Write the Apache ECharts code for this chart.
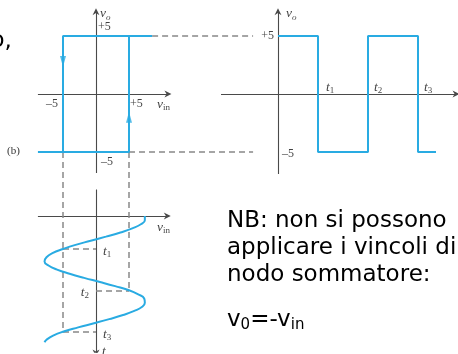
<!DOCTYPE html>
<html><head><meta charset="utf-8">
<script src="https://cdn.jsdelivr.net/npm/echarts@6/dist/echarts.min.js"></script>
<style>html,body{margin:0;padding:0;background:#fff}#c{width:458px;height:354px}</style>
</head><body><div id="c"></div>
<script>
// ---------- data ----------
// hysteresis loop (vin, vo)
const loopVin = [8.5, -5, -5, -8.8, 5, 5];
const loopVo  = [5, 5, -5, -5, -5, 5];
// loop direction arrows
const arrowVin = [-5, 5];
const arrowVo  = [2.8, -2.0];
const arrowRot = [180, 0];
// output square wave (t, vo)
const squareT  = [0, 4, 4, 9, 9, 14, 14, 15.8];
const squareVo = [5, 5, -5, -5, 5, 5, -5, -5];
// input sine (vin vs t, time runs downward)
const sineT   = [0,0.5,1,1.5,2,2.5,3,3.5,4,4.5,5,5.5,6,6.5,7,7.5,8,8.5,9,9.5,10,10.5,11,11.5,12,12.5,13,13.5,14,14.5,15,15.3];
const sineVin = [7.4,7.4,6.8,5.5,3.7,1.5,-0.8,-3.1,-5.0,-6.6,-7.5,-7.8,-7.2,-5.9,-4.0,-1.8,0.6,2.9,5.0,6.4,7.3,7.4,7.0,5.8,4.1,2.0,-0.3,-2.7,-4.9,-6.5,-7.5,-7.8];
// switching instants and thresholds
const crossT   = [4, 9, 14];
const crossVin = [-5, 5, -5];
const levels   = [5, -5];
const levelDashEnd = 23.8;     // vin where the level guide lines stop
const guideTopT = -7.76;       // t level of the vo=-5 line in the sine frame
// axis extents
const hystX = [-8.8, 10.9], hystY = [-6.8, 7.1];
const sqX = [-5.7, 17.8],  sqY = [-6.9, 7.1];
const sinX = [-8.8, 10.8], sinY = [-3.2, 16.6];

const BLUE = '#29abe2', GRAY = '#888', AX = '#4a4a4a';
const SERIF = 'Liberation Serif';

const arrowPath = 'path://M5,0 L10,10 L5,7 L0,10 Z';
function axisLines(grid, segs){
  return {type:'lines', coordinateSystem:'cartesian2d', xAxisIndex:grid, yAxisIndex:grid,
    polyline:false, silent:true, symbol:['none', arrowPath], symbolSize:[0,7],
    lineStyle:{color:AX, width:1.1, opacity:1, curveness:0},
    itemStyle:{color:AX},
    data: segs.map(s=>({coords:s}))};
}
function dashLines(grid, segs){
  return {type:'lines', coordinateSystem:'cartesian2d', xAxisIndex:grid, yAxisIndex:grid,
    silent:true, symbol:['none','none'],
    lineStyle:{color:GRAY, width:1.5, type:[6,4], opacity:1, curveness:0},
    data: segs.map(s=>({coords:s}))};
}
const rich = {
  v:{fontFamily:SERIF, fontStyle:'italic', fontSize:13.5, color:'#111', lineHeight:16},
  s:{fontFamily:SERIF, fontSize:9, color:'#111', verticalAlign:'bottom', lineHeight:9},
  si:{fontFamily:SERIF, fontStyle:'italic', fontSize:9, color:'#111', verticalAlign:'bottom', lineHeight:9},
  n:{fontFamily:SERIF, fontSize:12, color:'#111'}
};
function labels(grid, items){
  return {type:'scatter', xAxisIndex:grid, yAxisIndex:grid, symbolSize:1, silent:true,
    itemStyle:{color:'rgba(0,0,0,0)'},
    data: items.map(it=>({value:[it[0],it[1]], label:{show:true, position:'inside',
      formatter:it[2], align:it[3], verticalAlign:'middle', offset:it[4], rich:rich}}))};
}

const chart = echarts.init(document.getElementById('c'), null, {renderer:'canvas'});
const option = {
  animation:false,
  grid:[
    {left:3.6, top:1.2, width:448.8, height:348, outerBoundsMode:'none', containLabel:false},
    {left:8, top:1.2, width:450, height:348, outerBoundsMode:'none', containLabel:false},
    {left:3.6, top:1.5, width:448.8, height:350.625, outerBoundsMode:'none', containLabel:false}
  ],
  xAxis:[
    {gridIndex:0, type:'value', min:-14, max:54, show:false},
    {gridIndex:1, type:'value', min:-27, max:18, show:false},
    {gridIndex:2, type:'value', min:-14, max:54, show:false}
  ],
  yAxis:[
    {gridIndex:0, type:'value', min:-22, max:8, show:false},
    {gridIndex:1, type:'value', min:-22, max:8, show:false},
    {gridIndex:2, type:'value', min:-26, max:16.5, inverse:true, show:false}
  ],
  series:[
    axisLines(0, [[[hystX[0],0],[hystX[1],0]], [[0,hystY[0]],[0,hystY[1]]]]),
    axisLines(1, [[[sqX[0],0],[sqX[1],0]], [[0,sqY[0]],[0,sqY[1]]]]),
    axisLines(2, [[[sinX[0],0],[sinX[1],0]], [[0,sinY[0]],[0,sinY[1]]]]),
    dashLines(0, [[[loopVin[0],levels[0]],[levelDashEnd,levels[0]]], [[loopVin[4],levels[1]],[levelDashEnd,levels[1]]]]),
    dashLines(2, [
      [[crossVin[0],guideTopT],[crossVin[0],crossT[2]]],
      [[crossVin[1],guideTopT],[crossVin[1],crossT[1]]],
      [[crossVin[0],crossT[0]],[0,crossT[0]]],
      [[0,crossT[1]],[crossVin[1],crossT[1]]],
      [[crossVin[2],crossT[2]],[0,crossT[2]]]
    ]),
    {type:'line', xAxisIndex:0, yAxisIndex:0, symbol:'none', silent:true,
      lineStyle:{color:BLUE, width:2}, data: loopVin.map((v,i)=>[v, loopVo[i]])},
    {type:'scatter', xAxisIndex:0, yAxisIndex:0, silent:true, symbol:'triangle', symbolSize:[6,11],
      itemStyle:{color:BLUE},
      data: arrowVin.map((v,i)=>({value:[v, arrowVo[i]], symbolRotate:arrowRot[i]}))},
    {type:'line', xAxisIndex:1, yAxisIndex:1, symbol:'none', silent:true,
      lineStyle:{color:BLUE, width:2}, data: squareT.map((t,i)=>[t, squareVo[i]])},
    {type:'line', xAxisIndex:2, yAxisIndex:2, symbol:'none', silent:true, smooth:true,
      lineStyle:{color:BLUE, width:2}, data: sineT.map((t,i)=>[sineVin[i], t])},
    labels(0, [
      [0, 7, '{v|v}{si|o}', 'left', [4,1]],
      [0, 5, '{n|+5}', 'left', [2,-9]],
      [-5, 0, '{n|–5}', 'right', [-5,10]],
      [5, 0, '{n|+5}', 'left', [1,10]],
      [9.24, 0, '{v|v}{s|in}', 'left', [0,10]],
      [0, -5, '{n|–5}', 'left', [5,10]]
    ]),
    labels(1, [
      [0, 7, '{v|v}{si|o}', 'left', [8,1]],
      [0, 5, '{n|+5}', 'right', [-4,0]],
      [0, -5, '{n|–5}', 'left', [4,2]],
      [crossT[0], 0, '{v|t}{s|1}', 'left', [8,-7]],
      [crossT[1], 0, '{v|t}{s|2}', 'left', [6,-7]],
      [crossT[2], 0, '{v|t}{s|3}', 'left', [6,-7]]
    ]),
    labels(2, [
      [9.24, 0, '{v|v}{s|in}', 'left', [0,11]],
      [0, crossT[0], '{v|t}{s|1}', 'left', [7,2]],
      [0, crossT[1], '{v|t}{s|2}', 'right', [-7,2]],
      [0, crossT[2], '{v|t}{s|3}', 'left', [7,3]],
      [0, 16.4, '{v|t}', 'left', [6,0]]
    ])
  ],
  graphic:[
    {type:'text', x:-9.5, y:41, silent:true,
      style:{text:'o,', font:'23px "DejaVu Sans"', fill:'#000', verticalAlign:'middle'}},
    {type:'text', x:7, y:151, silent:true,
      style:{text:'(b)', font:'11px "Liberation Serif"', fill:'#333', verticalAlign:'middle'}},
    {type:'text', x:227, y:221.5, silent:true,
      style:{text:'NB: non si possono', font:'23px "DejaVu Sans"', fill:'#000', verticalAlign:'middle'}},
    {type:'text', x:227, y:248.5, silent:true,
      style:{text:'applicare i vincoli di', font:'23px "DejaVu Sans"', fill:'#000', verticalAlign:'middle'}},
    {type:'text', x:227, y:275.5, silent:true,
      style:{text:'nodo sommatore:', font:'23px "DejaVu Sans"', fill:'#000', verticalAlign:'middle'}},
    {type:'text', x:227, y:320, silent:true,
      style:{text:'{a|v}{b|0}{a|=-v}{b|in}', verticalAlign:'middle',
        rich:{a:{fontFamily:'DejaVu Sans', fontSize:23, fill:'#000', lineHeight:26},
              b:{fontFamily:'DejaVu Sans', fontSize:15, fill:'#000', verticalAlign:'bottom', lineHeight:14}}}}
  ]
};
chart.setOption(option);
</script></body></html>
